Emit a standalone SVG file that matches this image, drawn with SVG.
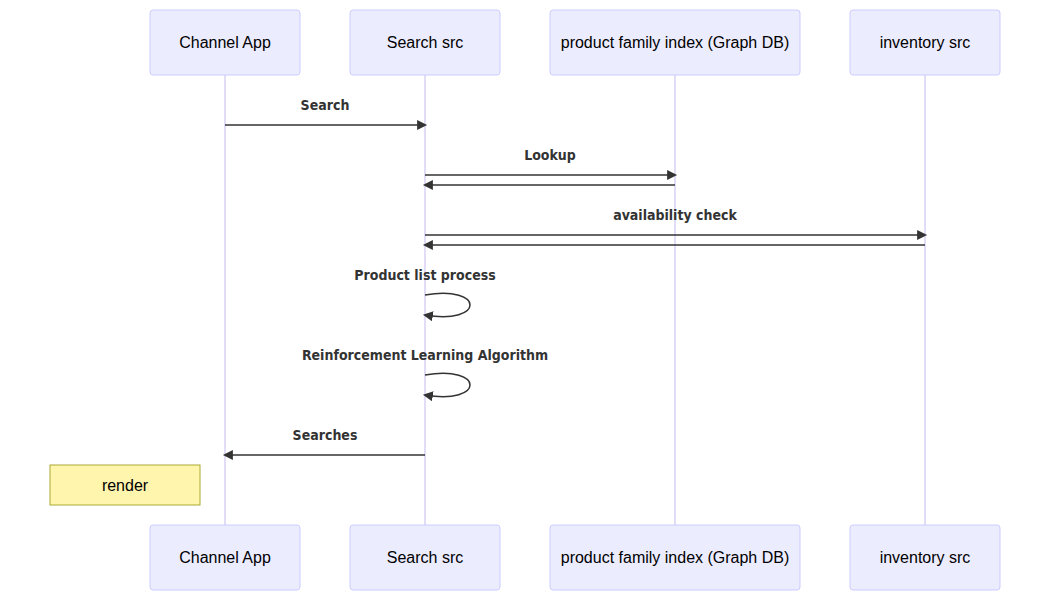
<svg xmlns="http://www.w3.org/2000/svg" width="1050" height="601" viewBox="0 0 1050 601">
<defs>
<marker id="arrow" viewBox="0 0 12 12" refX="7.9" refY="5" markerUnits="userSpaceOnUse" markerWidth="12" markerHeight="12" orient="auto">
<path d="M 0 0 L 10 5 L 0 10 z" fill="#333"/>
</marker>
<style>
.actor{fill:#ECECFF;stroke:#CCCCFF;stroke-width:1}
.actor-text{font-family:"Liberation Sans",Arial,sans-serif;font-size:16px;fill:#000;text-anchor:middle;dominant-baseline:central}
.life{stroke:#D9D0F5;stroke-width:1.5}
.msg{stroke:#333;stroke-width:1.5;fill:none;marker-end:url(#arrow)}
.msg-text{font-family:"DejaVu Sans Condensed","DejaVu Sans",sans-serif;font-weight:bold;font-size:14px;fill:#333;text-anchor:middle}
.note{fill:#FFF5AD;stroke:#AAAA33;stroke-width:1}
.note-text{font-family:"Liberation Sans",Arial,sans-serif;font-size:16px;fill:#000;text-anchor:middle;dominant-baseline:central}
</style>
</defs>
<rect width="1050" height="601" fill="#fff"/>
<g id="lifelines">
<line class="life" x1="225" y1="75" x2="225" y2="525"/>
<line class="life" x1="425" y1="75" x2="425" y2="525"/>
<line class="life" x1="675" y1="75" x2="675" y2="525"/>
<line class="life" x1="925" y1="75" x2="925" y2="525"/>
</g>
<g id="actor-channel-top"><rect class="actor" x="150" y="10" width="150" height="65" rx="3"/><text class="actor-text" x="225" y="42.5">Channel App</text></g>
<g id="actor-search-top"><rect class="actor" x="350" y="10" width="150" height="65" rx="3"/><text class="actor-text" x="425" y="42.5">Search src</text></g>
<g id="actor-pfi-top"><rect class="actor" x="550" y="10" width="250" height="65" rx="3"/><text class="actor-text" x="675" y="42.5">product family index (Graph DB)</text></g>
<g id="actor-inv-top"><rect class="actor" x="850" y="10" width="150" height="65" rx="3"/><text class="actor-text" x="925" y="42.5">inventory src</text></g>
<g id="actor-channel-bottom"><rect class="actor" x="150" y="525" width="150" height="65" rx="3"/><text class="actor-text" x="225" y="557.5">Channel App</text></g>
<g id="actor-search-bottom"><rect class="actor" x="350" y="525" width="150" height="65" rx="3"/><text class="actor-text" x="425" y="557.5">Search src</text></g>
<g id="actor-pfi-bottom"><rect class="actor" x="550" y="525" width="250" height="65" rx="3"/><text class="actor-text" x="675" y="557.5">product family index (Graph DB)</text></g>
<g id="actor-inv-bottom"><rect class="actor" x="850" y="525" width="150" height="65" rx="3"/><text class="actor-text" x="925" y="557.5">inventory src</text></g>
<g id="note-render"><rect class="note" x="50" y="465" width="150" height="40"/><text class="note-text" x="125" y="485">render</text></g>
<g id="connectors">
<text class="msg-text" x="325" y="110">Search</text>
<line class="msg" x1="225" y1="125" x2="425" y2="125"/>
<text class="msg-text" x="550" y="160">Lookup</text>
<line class="msg" x1="425" y1="175" x2="675" y2="175"/>
<line class="msg" x1="675" y1="185" x2="425" y2="185"/>
<text class="msg-text" x="675" y="220">availability check</text>
<line class="msg" x1="425" y1="235" x2="925" y2="235"/>
<line class="msg" x1="925" y1="245" x2="425" y2="245"/>
<text class="msg-text" x="425" y="280">Product list process</text>
<path class="msg" d="M 425,295 C 485,285 485,325 425,315"/>
<text class="msg-text" x="425" y="360">Reinforcement Learning Algorithm</text>
<path class="msg" d="M 425,375 C 485,365 485,405 425,395"/>
<text class="msg-text" x="325" y="440">Searches</text>
<line class="msg" x1="425" y1="455" x2="225" y2="455"/>
</g>
</svg>
